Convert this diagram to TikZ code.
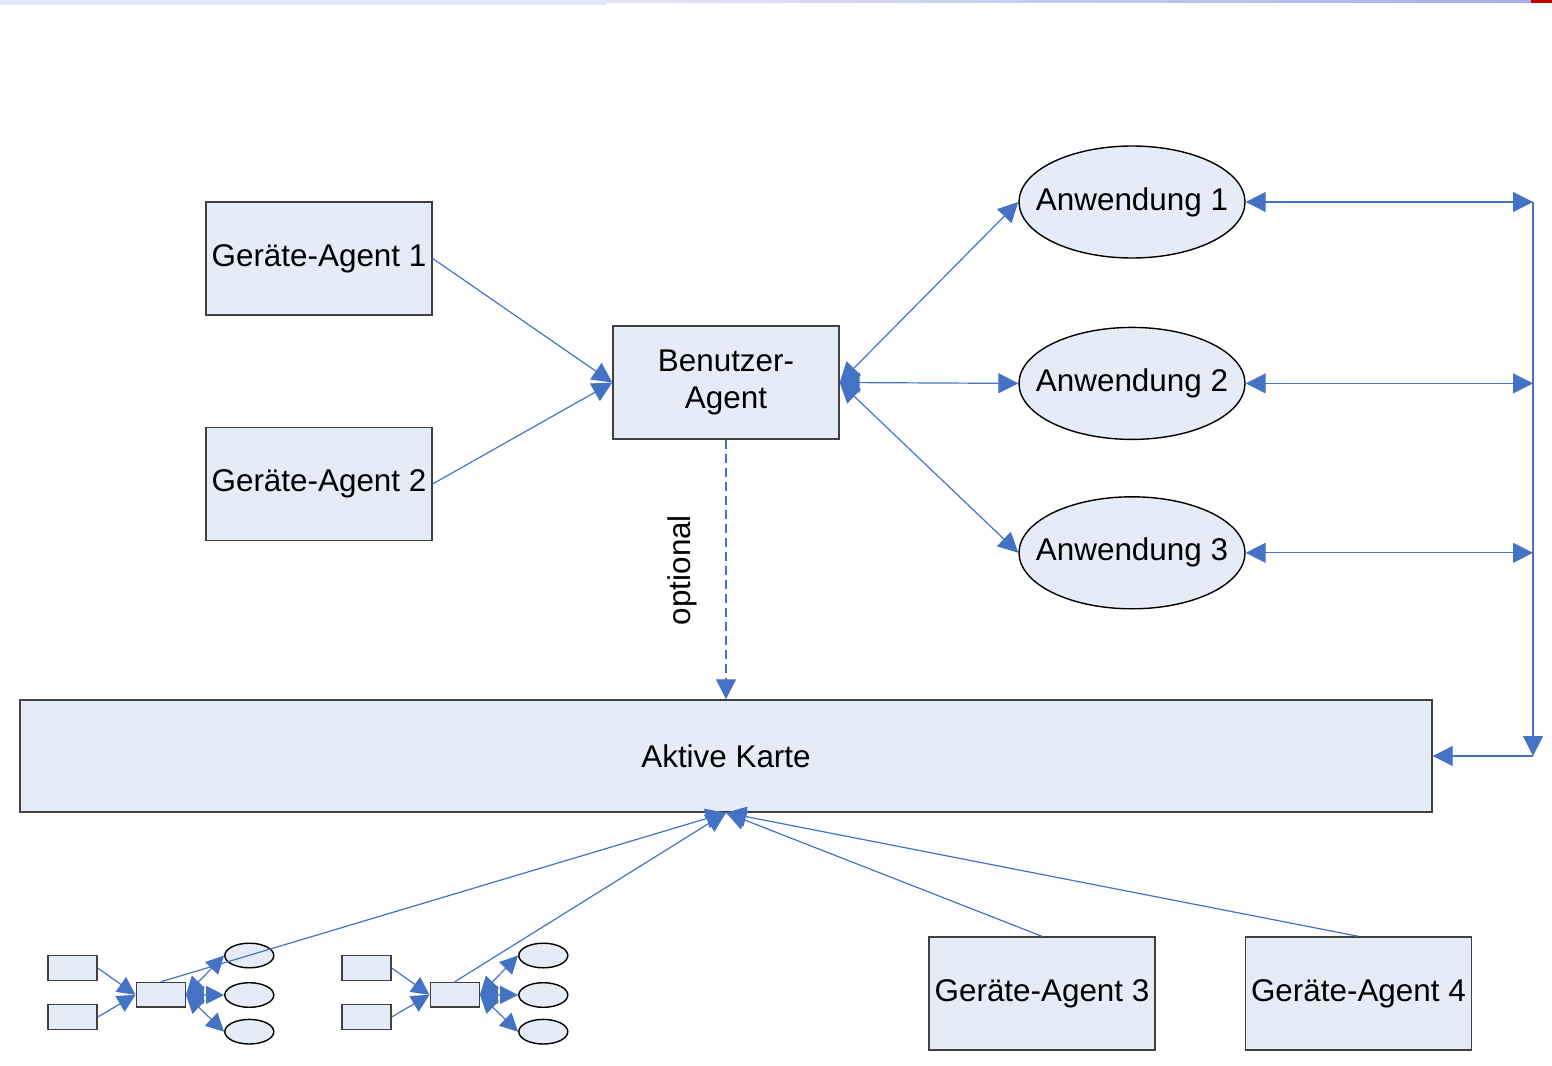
\documentclass[tikz,border=0pt]{standalone}
\usepackage{fontspec}
\setmainfont{Liberation Sans}
\usepackage{xcolor}
\usetikzlibrary{arrows.meta,positioning,shapes}
\definecolor{boxfill}{RGB}{230,236,247}
\definecolor{boxline}{RGB}{64,64,64}
\definecolor{linkblue}{RGB}{68,114,196}
\definecolor{barlight}{RGB}{226,231,243}
\definecolor{barleft}{RGB}{228,228,246}
\definecolor{barright}{RGB}{168,174,232}
\definecolor{barred}{RGB}{192,0,0}

\begin{document}
\begin{tikzpicture}[
		x = 0.5pt, y = -0.5pt,
		font = \fontsize{15.7}{18.5}\selectfont,
		> = {Triangle[length = 10pt, width = 10pt]},
		agent/.style = {rectangle, draw = boxline, fill = boxfill, line width = 0.7pt, minimum width = 113pt, minimum height = 56.5pt, inner sep = 0pt, align = center},
		app/.style = {ellipse, draw = black, fill = boxfill, line width = 0.7pt, minimum width = 113pt, minimum height = 56pt, inner sep = 0pt},
		mini/.style = {rectangle, draw = boxline, fill = boxfill, line width = 0.7pt, minimum width = 24.5pt, minimum height = 12.3pt, inner sep = 0pt},
		miniapp/.style = {ellipse, draw = black, fill = boxfill, line width = 0.7pt, minimum width = 24.5pt, minimum height = 12.3pt, inner sep = 0pt},
		link/.style = {draw = linkblue, line width = 0.6pt},
		minilink/.style = {link, > = {Triangle[length = 9pt, width = 9pt]}}
		]
\useasboundingbox (0,0) rectangle (1552,1065);

% Kopfleiste
\shade[left color = barleft, right color = barright] (607,0) rectangle (1531,3);
\fill[barlight] (0,0) rectangle (607,5);
\fill[barred] (1531,0) rectangle (1552,3);

\node[agent] (ga1) at (319,258.5) {Geräte-Agent 1};
\node[agent][below = 55.5pt of ga1] (ga2) {Geräte-Agent 2};
\node[agent] (benutzer) at (726,382.5) {Benutzer-\\Agent};

\node[app, label = center:{Anwendung 1}] (anw1) at (1132,202) {};
\node[app, label = center:{Anwendung 2}][below = 34pt of anw1] (anw2) {};
\node[app, label = center:{Anwendung 3}][below = 28pt of anw2] (anw3) {};

\node[agent, minimum width = 706pt, minimum height = 56pt] (karte) at (726,756) {Aktive Karte};

\node[agent] (ga3) at (1042,993.5) {Geräte-Agent 3};
\node[agent][right = 44.5pt of ga3] (ga4) {Geräte-Agent 4};

% kleine Gruppen
\node[mini] (s1a) at (72.5,968) {};
\node[mini] (s1b) at (72.5,1017) {};
\node[mini] (s1m) at (160.7,994.8) {};
\node[miniapp] (s1x) at (249.3,955.5) {};
\node[miniapp] (s1y) at (249.3,995) {};
\node[miniapp] (s1z) at (249.3,1031.7) {};

\node[mini] (s2a) at (366.5,968) {};
\node[mini] (s2b) at (366.5,1017) {};
\node[mini] (s2m) at (454.7,994.8) {};
\node[miniapp] (s2x) at (543.3,955.5) {};
\node[miniapp] (s2y) at (543.3,995) {};
\node[miniapp] (s2z) at (543.3,1031.7) {};

\draw[minilink, ->] (s1a.east) -- (s1m.west);
\draw[minilink, ->] (s1b.east) -- (s1m.west);
\draw[minilink, <->] (s1m.east) -- (s1x.west);
\draw[minilink, <->] (s1m.east) -- (s1y.west);
\draw[minilink, <->] (s1m.east) -- (s1z.west);

\draw[minilink, ->] (s2a.east) -- (s2m.west);
\draw[minilink, ->] (s2b.east) -- (s2m.west);
\draw[minilink, <->] (s2m.east) -- (s2x.west);
\draw[minilink, <->] (s2m.east) -- (s2y.west);
\draw[minilink, <->] (s2m.east) -- (s2z.west);

\draw[link, ->] (ga1.east) -- (benutzer.west);
\draw[link, ->] (ga2.east) -- (benutzer.west);
\draw[link, <->] (benutzer.east) -- (anw1.west);
\draw[link, <->] (benutzer.east) -- (anw2.west);
\draw[link, <->] (benutzer.east) -- (anw3.west);

\draw[link, ->, dash pattern = on 4.5pt off 2.5pt] (benutzer.south) -- (karte.north);
\node[rotate = 90] (opt) at (682,570) {optional};

% Sammelleitung rechts
\coordinate (bus) at (1533,756);
\draw[link, <->] (anw1.east) -- (anw1.east -| bus);
\draw[link, <->] (anw2.east) -- (anw2.east -| bus);
\draw[link, <->] (anw3.east) -- (anw3.east -| bus);
\draw[link, ->] (anw1.east -| bus) -- (bus);
\draw[link, ->] (bus) -- (karte.east);

\draw[link, ->] (s1m.north) -- (karte.south);
\draw[link, ->] (s2m.north) -- (karte.south);
\draw[link, ->] (ga3.north) -- (karte.south);
\draw[link, ->] (ga4.north) -- (karte.south);

\end{tikzpicture}
\end{document}
